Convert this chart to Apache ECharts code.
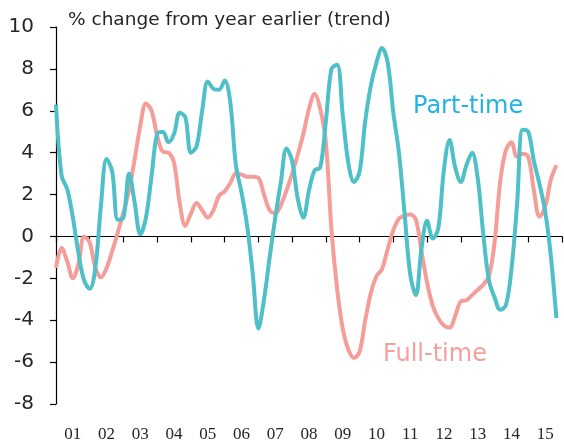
<!DOCTYPE html>
<html>
<head>
<meta charset="utf-8">
<script src="https://cdn.jsdelivr.net/npm/echarts@6/dist/echarts.min.js"></script>
<style>
html,body{margin:0;padding:0;background:#fff;}
#chart{width:564px;height:448px;}
</style>
</head>
<body>
<div id="chart"></div>
<script>
// year labels, one per calendar year (centred between ticks)
var yearLabels = ['01','02','03','04','05','06','07','08','09','10','11','12','13','14','15'];
var startYear = 2001;
var stepYears = 1 / 6; // one reading every two months

// % change from year earlier (trend)
var partTime = [
  6.3, 2.9, 2.25, 0.9, -0.8, -2.1, -2.5, -1.5, 1.5, 3.7,
  3.1, 0.8, 0.9, 3.0, 1.6, 0.1, 0.9, 2.9, 4.9, 5.0,
  4.5, 4.9, 5.9, 5.7, 4.0, 4.3, 6.0, 7.4, 7.05, 7.0,
  7.45, 6.4, 3.4, 2.1, 0.5, -1.8, -4.4, -3.0, -1.0, 0.9,
  2.6, 4.2, 3.6, 1.8, 0.9, 2.2, 3.15, 3.3, 5.5, 8.0,
  8.2, 5.8, 3.5, 2.6, 3.1, 5.5, 7.2, 8.3, 9.0, 8.3,
  5.9, 4.0, 1.1, -1.8, -2.8, -0.6, 0.75, -0.1, 0.4, 3.2,
  4.6, 3.3, 2.6, 3.4, 4.0, 2.8, 0.1, -2.1, -2.9, -3.5,
  -3.3, -1.6, 1.5, 5.1, 5.0, 3.6, 2.5, 1.2, -0.9, -3.9
];
var fullTime = [
  -1.5, -0.55, -1.2, -2.0, -1.3, 0.0, -0.3, -1.5, -1.95, -1.5,
  -0.7, 0.2, 1.15, 2.2, 3.7, 5.3, 6.35, 6.0, 4.8, 4.05,
  4.0, 3.5, 1.6, 0.5, 1.1, 1.6, 1.25, 0.9, 1.25, 1.95,
  2.15, 2.55, 3.0, 2.95, 2.85, 2.85, 2.8, 2.0, 1.25, 1.1,
  1.5, 2.2, 3.0, 3.9, 4.9, 6.1, 6.8, 6.1, 4.5, 0.3,
  -2.5, -4.4, -5.4, -5.8, -5.5, -4.0, -2.7, -1.9, -1.55, -0.6,
  0.3, 0.85, 1.0, 1.05, 0.8, -0.7, -2.2, -3.3, -3.9, -4.25,
  -4.35, -3.8, -3.1, -3.05, -2.8, -2.55, -2.3, -1.9, -0.3, 2.6,
  4.1, 4.5, 3.8, 3.95, 3.8, 2.2, 0.95, 1.4, 2.7, 3.4
];

function toPairs(vals){
  return vals.map(function(v, i){ return [startYear + i * stepYears, v]; });
}

var chart = echarts.init(document.getElementById('chart'));
var txt = '#262626';
var font = 'DejaVu Sans';

chart.setOption({
  animation: false,
  grid: {left: 56, right: 2, top: 27, bottom: 44},
  xAxis: [
    {
      // axis line across zero with year boundary ticks
      type: 'value',
      min: 2001,
      max: 2016,
      interval: 1,
      axisLine: {onZero: true, lineStyle: {color: '#000', width: 1.2}},
      axisTick: {show: true, length: 6, lineStyle: {color: '#000', width: 1.2}},
      axisLabel: {show: false},
      splitLine: {show: false}
    },
    {
      // year labels at the bottom
      type: 'category',
      data: yearLabels,
      position: 'bottom',
      boundaryGap: true,
      axisLine: {show: false, onZero: false},
      axisTick: {show: false},
      axisLabel: {color: txt, fontFamily: 'Liberation Sans Narrow', fontSize: 17, margin: 22, interval: 0},
      splitLine: {show: false}
    }
  ],
  yAxis: {
    type: 'value',
    min: -8,
    max: 10,
    interval: 2,
    axisLine: {show: true, onZero: false, lineStyle: {color: '#000', width: 1.2}},
    axisTick: {show: true, length: 6, lineStyle: {color: '#000', width: 1.2}},
    axisLabel: {color: txt, fontFamily: font, fontSize: 20, margin: 22},
    splitLine: {show: false}
  },
  graphic: [
    {type: 'text', x: 68, y: 20, style: {text: '% change from year earlier (trend)', fill: txt, font: '18.5px "DejaVu Sans"', verticalAlign: 'middle'}},
    {type: 'text', x: 413, y: 107, style: {text: 'Part-time', fill: '#22b2e4', font: '24px "DejaVu Sans"', verticalAlign: 'middle'}},
    {type: 'text', x: 383, y: 355, style: {text: 'Full-time', fill: '#f4a09c', font: '24px "DejaVu Sans"', verticalAlign: 'middle'}}
  ],
  series: [
    {
      name: 'Full-time',
      type: 'line',
      xAxisIndex: 0,
      data: toPairs(fullTime),
      smooth: 0.35,
      showSymbol: false,
      lineStyle: {color: '#f59d98', width: 4},
      z: 2
    },
    {
      name: 'Part-time',
      type: 'line',
      xAxisIndex: 0,
      data: toPairs(partTime),
      smooth: 0.35,
      showSymbol: false,
      lineStyle: {color: '#4fc0c8', width: 4},
      z: 3
    }
  ]
});
</script>
</body>
</html>
